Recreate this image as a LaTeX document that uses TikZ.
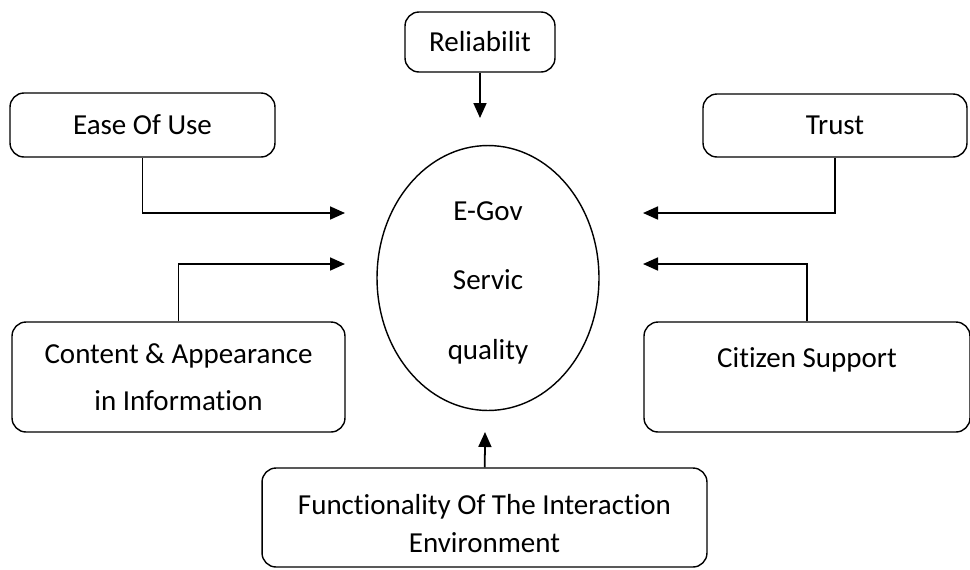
\documentclass[tikz,border=0pt]{standalone}
\usepackage{fontspec}
\setmainfont{Carlito}[Ligatures = NoCommon]
\usetikzlibrary{arrows.meta, shapes.geometric}

\begin{document}
\begin{tikzpicture}[x = 0.02cm, y = -0.02cm,
  every node/.style = {font = \fontsize{16.5}{20}\selectfont, align = center},
  box/.style = {draw, line width = 0.8pt, rounded corners = 0.28cm, inner sep = 0pt},
  link/.style = {line width = 1pt, -{Triangle[length = 0.3cm, width = 0.26cm]}}]
\useasboundingbox (0,0) rectangle (970,569);

\node at (480,42) [box, minimum width = 3cm, minimum height = 1.2cm] (R) {Reliabilit};
\node at (142.5,125) [box, minimum width = 5.3cm, minimum height = 1.28cm] (E) {Ease Of Use};
\node at (835,125.5) [box, minimum width = 5.28cm, minimum height = 1.26cm] (T) {Trust};
\node at (178.5,377) [box, minimum width = 6.66cm, minimum height = 2.2cm] (C) {Content \& Appearance\\[6.5pt] in Information};
\node at (807,377) [box, minimum width = 6.52cm, minimum height = 2.2cm] (S) {Citizen Support\\[-4pt] \strut};
\node at (484.5,517.5) [box, minimum width = 8.9cm, minimum height = 1.98cm] (F) {\rule{0pt}{18.5pt}Functionality Of The Interaction\\[1.5pt] Environment};
\node at (488,278) [draw, ellipse, line width = 0.8pt, minimum width = 4.44cm, minimum height = 5.3cm, inner sep = 0pt] (Q) {\rule{0pt}{16pt}E-Gov\\[19.5pt] Servic\\[19.5pt] quality};

% loose ends of the arrows, just short of the ellipse
\coordinate (R1) at (480,118);
\coordinate (E1) at (345,213);
\coordinate (C1) at (345,264);
\coordinate (T1) at (643,213);
\coordinate (S1) at (643,264);
\coordinate (F1) at (485,432);

\draw[link] (R) -- (R1);
\draw[link] (E.south) |- (E1);
\draw[link] (C.north) |- (C1);
\draw[link] (T.south) |- (T1);
\draw[link] (S.north) |- (S1);
\draw[link] (F) -- (F1);
\end{tikzpicture}
\end{document}
